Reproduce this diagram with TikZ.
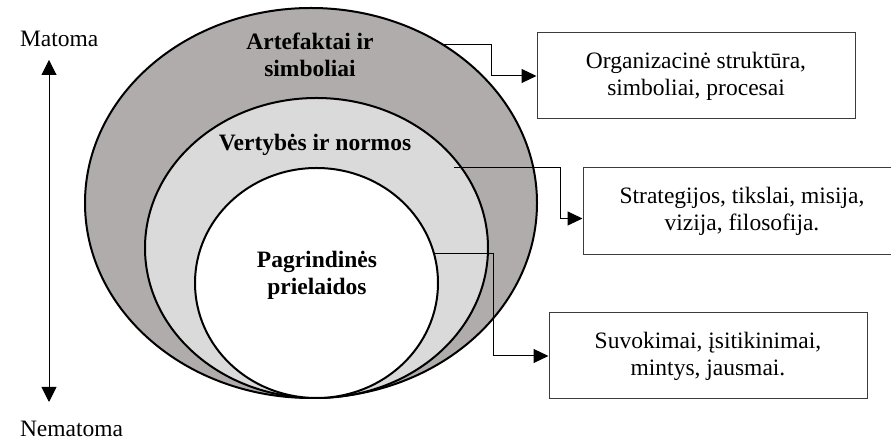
\documentclass[tikz,border=0pt]{standalone}
\usepackage{fontspec}
\setmainfont{Liberation Serif}
\usetikzlibrary{shapes.geometric,arrows.meta}

\definecolor{ringdark}{RGB}{177,172,172}
\definecolor{ringlight}{RGB}{218,218,218}
\definecolor{boxline}{RGB}{60,60,60}

\begin{document}
\begin{tikzpicture}[x=1pt,y=1pt,
    layer/.style={ellipse,draw,line width=2pt,inner sep=0pt},
    infobox/.style={draw=boxline,line width=1pt,fill=white,minimum width=318pt,
        minimum height=86pt,align=center,inner sep=0pt},
    conn/.style={line width=1pt,-{Triangle[length=15pt,width=14pt]}},
    lbl/.style={font=\bfseries,align=center}]
    \useasboundingbox (0,0) rectangle (891,443);
    \fontsize{23.5}{27}\selectfont

    % Layers of the culture
    \node[layer,fill=ringdark,minimum width=452pt,minimum height=390pt] (outer) at (311,240) {};
    \node[layer,fill=ringlight,minimum width=343pt,minimum height=300pt] (middle) at (316.5,195) {};
    \node[layer,fill=white,minimum width=243pt,minimum height=230pt] (inner) at (316.5,160) {};

    \node[lbl] (artefaktai) at (310,388) {Artefaktai ir\\simboliai};
    \node[lbl] (vertybes) at (315,298) {Vertybės ir normos};
    \node[lbl] (prielaidos) at (317,168) {Pagrindinės\\prielaidos};

    % Visibility axis
    \node[anchor=base west] (matoma) at (12,396) {Matoma};
    \node[anchor=base west] (nematoma) at (12,6) {Nematoma};
    \coordinate (vtop) at (49,383);
    \coordinate (vbot) at (49,41);
    \draw[line width=1pt,{Triangle[length=15pt,width=15pt]}-{Triangle[length=15pt,width=15pt]}] (vtop) -- (vbot);

    % Descriptions
    \node[infobox] (box1) at (696,367) {Organizacinė struktūra,\\simboliai, procesai};
    \node[infobox,minimum height=87pt] (box2) at (742,231.5) {Strategijos, tikslai, misija,\\vizija, filosofija.};
    \node[infobox] (box3) at (708,87) {Suvokimai, įsitikinimai,\\mintys, jausmai.};

    \draw[conn] (outer.50) -- ++(47,0) |- (box1.west);
    \draw[conn] ([xshift=-8pt]middle.29) -- ++(106.5,0) |- ([yshift=-7pt]box2.west);
    \draw[conn] (inner.14) -- ++(59,0) |- (box3.west);
\end{tikzpicture}
\end{document}
